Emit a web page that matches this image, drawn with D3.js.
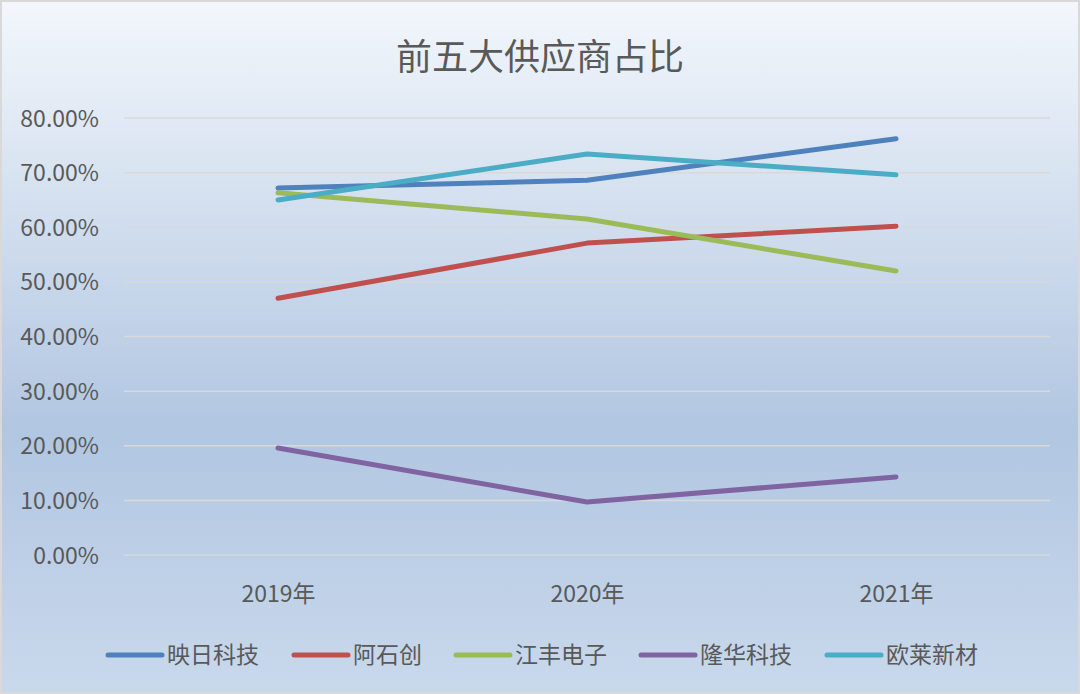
<!DOCTYPE html>
<html lang="zh">
  <head>
    <meta charset="UTF-8" />
    <title>前五大供应商占比</title>
    <script src="https://cdn.jsdelivr.net/npm/d3@7"></script>
    <style>
      html, body { margin: 0; padding: 0; background: #fff; }
      svg { display: block; }
      text { font-family: "Noto Sans CJK SC", "Noto Sans", sans-serif; fill: #595959; }
    </style>
  </head>
  <body>
    <script>
    // data
    var years = ["2019年", "2020年", "2021年"];
    var names = ["映日科技", "阿石创", "江丰电子", "隆华科技", "欧莱新材"];
    var colors = ["#4f81bd", "#c0504d", "#9bbb59", "#8064a2", "#4bacc6"];
    var yingri = [67.2, 68.6, 76.2];
    var ashichuang = [47.0, 57.1, 60.2];
    var jiangfeng = [66.3, 61.5, 52.0];
    var longhua = [19.6, 9.7, 14.3];
    var oulai = [65.0, 73.4, 69.6];
    var yTicks = [0, 10, 20, 30, 40, 50, 60, 70, 80];

    var series = [yingri, ashichuang, jiangfeng, longhua, oulai];

    var w = 1080, h = 694;
    var plotL = 124, plotR = 1050, plotT = 118, plotB = 555;

    var svg = d3.select("body").append("svg")
      .attr("width", w).attr("height", h);

    // background gradient
    var grad = svg.append("defs").append("linearGradient")
      .attr("id", "bg").attr("x1", 0).attr("y1", 0).attr("x2", 0).attr("y2", 1);
    grad.append("stop").attr("offset", "0").attr("stop-color", "#f3f7fc");
    grad.append("stop").attr("offset", "0.62").attr("stop-color", "#b1c6e1");
    grad.append("stop").attr("offset", "1").attr("stop-color", "#c9d9ec");

    svg.append("rect")
      .attr("x", 1).attr("y", 1).attr("width", w - 2).attr("height", h - 2)
      .attr("fill", "url(#bg)")
      .attr("stroke", "#d9d9d9").attr("stroke-width", 2);

    var x = d3.scalePoint().domain(years).range([278, 896]);
    var y = d3.scaleLinear().domain([0, 80]).range([plotB, plotT]);

    // gridlines
    svg.append("g").selectAll("line")
      .data(yTicks)
      .enter()
      .append("line")
      .attr("x1", plotL).attr("x2", plotR)
      .attr("y1", function(d) { return y(d); })
      .attr("y2", function(d) { return y(d); })
      .attr("stroke", "#d9d9d9").attr("stroke-width", 1.5);

    // y axis labels
    var yAxis = d3.axisLeft(y)
      .tickValues(yTicks)
      .tickSize(0)
      .tickPadding(0)
      .tickFormat(function(d) { return d.toFixed(2) + "%"; });
    var gy = svg.append("g")
      .attr("transform", "translate(99,0)")
      .call(yAxis);
    gy.select(".domain").remove();
    gy.selectAll("text")
      .attr("font-size", 23)
      .attr("font-family", "\"Noto Sans CJK SC\", sans-serif")
      .attr("fill", "#595959")
      .attr("dy", "0.35em");

    // x axis labels
    var xAxis = d3.axisBottom(x).tickSize(0).tickPadding(0);
    var gx = svg.append("g")
      .attr("transform", "translate(0,602)")
      .call(xAxis);
    gx.select(".domain").remove();
    gx.selectAll("text")
      .attr("font-size", 23)
      .attr("font-family", "\"Noto Sans CJK SC\", sans-serif")
      .attr("fill", "#595959")
      .attr("dy", "0");

    // lines
    var line = d3.line()
      .x(function(d, i) { return x(years[i]); })
      .y(function(d) { return y(d); });

    svg.append("g").selectAll("path")
      .data(series)
      .enter()
      .append("path")
      .attr("d", line)
      .attr("fill", "none")
      .attr("stroke", function(d, i) { return colors[i]; })
      .attr("stroke-width", 5)
      .attr("stroke-linecap", "round")
      .attr("stroke-linejoin", "round");

    // title
    svg.append("text")
      .text("前五大供应商占比")
      .attr("x", 540).attr("y", 70)
      .attr("text-anchor", "middle")
      .attr("font-size", 36);

    // legend
    var legendX = [108, 294, 456, 641, 827];
    var lg = svg.append("g").selectAll("g")
      .data(names)
      .enter()
      .append("g")
      .attr("transform", function(d, i) { return "translate(" + legendX[i] + ",655)"; });
    lg.append("line")
      .attr("x1", 0).attr("x2", 54)
      .attr("stroke", function(d, i) { return colors[i]; })
      .attr("stroke-width", 5)
      .attr("stroke-linecap", "round");
    lg.append("text")
      .text(function(d) { return d; })
      .attr("x", 59)
      .attr("dy", "0.35em")
      .attr("font-size", 23);
    </script>
  </body>
</html>
